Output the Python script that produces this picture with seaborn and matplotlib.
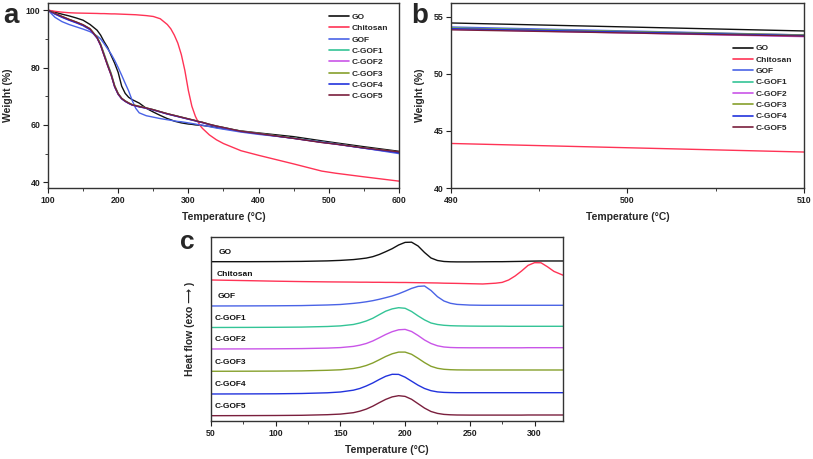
import numpy as np
import pandas as pd
import matplotlib
matplotlib.use("Agg")
import matplotlib.pyplot as plt
from matplotlib.ticker import MultipleLocator, NullLocator
import seaborn as sns

# ---- data ----
samples = ["GO", "Chitosan", "GOF", "C-GOF1", "C-GOF2", "C-GOF3", "C-GOF4", "C-GOF5"]
colors = ["#111111", "#ff3355", "#4a63e6", "#33c496", "#c955e8", "#86a02c", "#2233dd", "#7a1f3d"]

# TGA (panels a and b)
tga_temp = [100, 110, 120, 130, 140, 150, 160, 170, 175, 180, 185, 190, 195, 200, 205, 210,
            215, 220, 225, 230, 240, 250, 260, 270, 275, 280, 285, 290, 295, 300, 305, 310,
            316, 320, 330, 340, 350, 375, 400, 450, 490, 510, 550, 600]
tga_go = [100, 99.3, 98.6, 98.0, 97.3, 96.5, 95.0, 93.0, 91.3, 89.0, 87.0, 84.2, 81.5, 78.3, 73.5, 71.0,
          69.6, 68.8, 68.2, 67.6, 65.8, 64.5, 63.3, 62.2, 61.8, 61.3, 61.0, 60.7, 60.5, 60.3, 60.2, 60.0,
          59.9, 59.8, 59.5, 59.1, 58.7, 57.9, 57.2, 55.9, 54.45, 53.75, 52.4, 50.8]
tga_chitosan = [100, 99.6, 99.3, 99.1, 99.0, 98.95, 98.9, 98.85, 98.8, 98.8, 98.75, 98.7, 98.7, 98.65, 98.6, 98.55,
                98.5, 98.45, 98.4, 98.3, 98.1, 97.8, 97.0, 95.0, 93.5, 91.3, 88.5, 84.5, 79.0, 72.0, 66.5, 63.0,
                60.0, 58.8, 56.5, 54.8, 53.5, 51.0, 49.4, 46.4, 43.9, 43.15, 41.9, 40.4]
tga_gof = [100, 97.5, 96.0, 95.0, 94.2, 93.4, 92.5, 91.0, 90.0, 88.3, 86.5, 84.7, 82.5, 80.0, 77.3, 74.5,
           71.8, 68.5, 65.8, 64.2, 63.2, 62.7, 62.2, 61.8, 61.6, 61.4, 61.2, 61.1, 60.9, 60.7, 60.5, 60.3,
           60.0, 59.9, 59.4, 58.9, 58.5, 57.5, 56.7, 55.4, 54.1, 53.4, 51.9, 50.0]
tga_cgof1 = [100, 98.8, 97.7, 96.7, 95.8, 94.8, 93.4, 90.5, 88.0, 84.5, 81.0, 77.8, 73.5, 70.8, 69.2, 68.3,
             67.6, 67.0, 66.7, 66.4, 65.9, 65.3, 64.6, 63.9, 63.6, 63.3, 63.0, 62.7, 62.4, 62.1, 61.8, 61.5,
             61.1, 60.9, 60.2, 59.6, 59.1, 57.8, 57.0, 55.4, 54.0, 53.35, 52.0, 50.5]
tga_cgof2 = [100, 98.7, 97.6, 96.6, 95.7, 94.7, 93.2, 90.2, 87.6, 84.1, 80.6, 77.3, 73.2, 70.6, 69.1, 68.2,
             67.5, 66.9, 66.6, 66.3, 65.8, 65.2, 64.5, 63.8, 63.5, 63.2, 62.9, 62.6, 62.3, 62.0, 61.7, 61.4,
             61.0, 60.8, 60.1, 59.5, 59.0, 57.7, 56.9, 55.3, 53.9, 53.25, 51.9, 50.4]
tga_cgof3 = [100, 98.8, 97.8, 96.8, 95.9, 94.9, 93.5, 90.6, 88.2, 84.8, 81.3, 78.0, 73.8, 71.0, 69.3, 68.4,
             67.7, 67.1, 66.8, 66.5, 65.9, 65.3, 64.6, 63.9, 63.6, 63.3, 63.0, 62.7, 62.4, 62.1, 61.8, 61.5,
             61.1, 60.9, 60.2, 59.6, 59.1, 57.8, 57.0, 55.4, 54.0, 53.4, 52.0, 50.5]
tga_cgof4 = [100, 98.6, 97.5, 96.5, 95.6, 94.6, 93.2, 90.3, 87.8, 84.3, 80.8, 77.5, 73.3, 70.7, 69.1, 68.2,
             67.5, 66.9, 66.6, 66.3, 65.8, 65.2, 64.5, 63.8, 63.5, 63.2, 62.9, 62.6, 62.3, 62.0, 61.7, 61.4,
             61.0, 60.8, 60.1, 59.5, 59.0, 57.7, 56.9, 55.3, 53.95, 53.35, 51.9, 50.3]
tga_cgof5 = [100, 98.9, 97.8, 96.8, 95.9, 94.9, 93.5, 90.4, 87.8, 84.2, 80.7, 77.4, 73.4, 70.8, 69.2, 68.3,
             67.6, 67.0, 66.7, 66.4, 65.9, 65.3, 64.6, 63.9, 63.6, 63.3, 63.0, 62.7, 62.4, 62.1, 61.8, 61.5,
             61.1, 60.9, 60.2, 59.6, 59.1, 57.8, 57.0, 55.3, 53.85, 53.3, 52.0, 50.6]

# DSC (panel c): heat flow above each curve's own baseline (a.u.)
dsc_temp = [50, 80, 100, 120, 140, 150, 160, 165, 170, 175, 180, 185, 190, 195, 200, 205, 210, 215,
            220, 225, 230, 235, 240, 250, 260, 270, 275, 280, 285, 290, 295, 300, 305, 310, 315, 322]
dsc_go = [0.3, 0.3, 0.4, 0.6, 1.1, 1.6, 2.4, 3.1, 3.9, 5.3, 7.5, 10.3, 13.3, 17.0, 19.6, 19.8, 16.0, 9.5,
          4.0, 1.5, 0.5, 0.2, 0.1, 0.1, 0.2, 0.3, 0.3, 0.4, 0.5, 0.6, 0.8, 0.9, 1.0, 1.0, 1.0, 1.0]
dsc_chitosan = [4.0, 3.3, 2.8, 2.4, 2.1, 2.0, 1.9, 1.8, 1.8, 1.7, 1.7, 1.6, 1.6, 1.5, 1.5, 1.4, 1.3, 1.2,
                1.1, 1.0, 0.8, 0.7, 0.6, 0.3, 0.0, 0.8, 1.6, 4.0, 8.0, 13.0, 18.6, 21.3, 21.2, 17.2, 12.6, 8.8]
dsc_gof = [0.0, 0.1, 0.2, 0.4, 1.0, 1.5, 2.6, 3.3, 4.2, 5.3, 6.7, 8.3, 10.0, 12.2, 14.8, 17.6, 19.6, 20.0,
           15.5, 9.3, 5.0, 2.7, 1.6, 0.9, 0.7, 0.7, 0.7, 0.7, 0.7, 0.7, 0.7, 0.7, 0.7, 0.7, 0.7, 0.7]
dsc_cgof1 = [0.0, 0.1, 0.2, 0.4, 1.0, 1.6, 3.0, 4.5, 6.5, 9.2, 12.8, 16.3, 18.6, 19.8, 19.2, 16.0, 11.6, 7.6,
             4.5, 3.0, 2.2, 1.8, 1.6, 1.4, 1.3, 1.3, 1.3, 1.2, 1.2, 1.2, 1.2, 1.2, 1.2, 1.2, 1.2, 1.2]
dsc_cgof2 = [0.0, 0.1, 0.2, 0.4, 0.9, 1.4, 2.6, 3.8, 5.5, 8.0, 11.2, 14.5, 17.3, 19.2, 19.6, 17.5, 13.5, 9.0,
             5.5, 3.2, 2.0, 1.5, 1.3, 1.2, 1.2, 1.2, 1.2, 1.2, 1.2, 1.2, 1.3, 1.3, 1.3, 1.3, 1.3, 1.3]
dsc_cgof3 = [0.0, 0.1, 0.2, 0.4, 1.0, 1.5, 2.8, 4.0, 5.8, 8.3, 11.5, 14.8, 17.5, 19.2, 19.2, 17.0, 13.0, 8.7,
             5.0, 3.0, 2.0, 1.6, 1.4, 1.3, 1.3, 1.3, 1.3, 1.3, 1.3, 1.3, 1.3, 1.3, 1.3, 1.3, 1.3, 1.3]
dsc_cgof4 = [0.0, 0.1, 0.2, 0.5, 1.2, 2.0, 3.8, 5.5, 8.0, 11.0, 14.5, 17.7, 19.7, 19.6, 16.8, 12.8, 8.8, 5.5,
             3.3, 2.1, 1.6, 1.4, 1.3, 1.3, 1.3, 1.3, 1.3, 1.3, 1.3, 1.3, 1.3, 1.3, 1.3, 1.3, 1.3, 1.3]
dsc_cgof5 = [0.0, 0.1, 0.2, 0.4, 1.0, 1.6, 3.0, 4.5, 6.6, 9.5, 13.0, 16.3, 18.8, 20.0, 19.3, 16.4, 12.0, 7.6,
             4.2, 2.3, 1.3, 0.9, 0.7, 0.6, 0.6, 0.6, 0.6, 0.6, 0.6, 0.6, 0.7, 0.7, 0.7, 0.7, 0.7, 0.7]
dsc_offset = [159, 137, 115, 93.5, 72, 49.7, 27, 5.3]

tga_series = [tga_go, tga_chitosan, tga_gof, tga_cgof1, tga_cgof2, tga_cgof3, tga_cgof4, tga_cgof5]
dsc_series = [dsc_go, dsc_chitosan, dsc_gof, dsc_cgof1, dsc_cgof2, dsc_cgof3, dsc_cgof4, dsc_cgof5]

tga = pd.concat([pd.DataFrame({"T": tga_temp, "W": w, "sample": s})
                 for s, w in zip(samples, tga_series)], ignore_index=True)
dsc = pd.concat([pd.DataFrame({"T": dsc_temp, "H": np.array(h) + off, "sample": s})
                 for s, h, off in zip(samples, dsc_series, dsc_offset)], ignore_index=True)
palette = dict(zip(samples, colors))

# ---- style ----
sns.set_theme(style="ticks")
plt.rcParams["font.family"] = ["Liberation Sans", "DejaVu Sans"]
plt.rcParams["font.weight"] = "bold"
plt.rcParams["axes.labelweight"] = "bold"

fig = plt.figure(figsize=(8.13, 4.59), dpi=100)
ax_a = fig.add_axes([0.059, 0.5904, 0.4317, 0.4031])
ax_b = fig.add_axes([0.5547, 0.5904, 0.4342, 0.4031])
ax_c = fig.add_axes([0.2595, 0.0828, 0.433, 0.4009])


def style_axes(ax):
    for sp in ax.spines.values():
        sp.set_color("#333333")
        sp.set_linewidth(1.0)
    ax.tick_params(which="major", direction="out", length=3.5, width=0.8,
                   labelsize=6.3, pad=2, colors="#222222")
    ax.tick_params(which="minor", direction="out", length=2, width=0.6, colors="#222222")
    for lab in ax.get_xticklabels() + ax.get_yticklabels():
        lab.set_fontweight("bold")


def make_legend(ax, anchor):
    leg = ax.get_legend()
    handles = leg.legend_handles
    labels = [t.get_text() for t in leg.get_texts()]
    for h in handles:
        h.set_linewidth(1.2)
    ax.legend(handles, labels, loc="upper left", bbox_to_anchor=anchor, frameon=False,
              handlelength=2.4, handletextpad=0.3, labelspacing=0.42,
              borderaxespad=0, borderpad=0, prop={"weight": "bold", "size": 6})


# panel a
sns.lineplot(data=tga, x="T", y="W", hue="sample", hue_order=samples, palette=palette,
             estimator=None, sort=False, lw=1.0, ax=ax_a)
ax_a.set_xlim(100, 600)
ax_a.set_ylim(38, 102.5)
ax_a.xaxis.set_major_locator(MultipleLocator(100))
ax_a.xaxis.set_minor_locator(MultipleLocator(50))
ax_a.yaxis.set_major_locator(MultipleLocator(20))
ax_a.yaxis.set_minor_locator(MultipleLocator(10))
ax_a.set_xlabel("Temperature (\u00b0C)", fontsize=7.5, fontweight="bold")
ax_a.set_ylabel("Weight (%)", fontsize=7.5, fontweight="bold")
ax_a.xaxis.set_label_coords(0.5, -0.13)
ax_a.yaxis.set_label_coords(-0.10, 0.5)
style_axes(ax_a)
make_legend(ax_a, (0.80, 0.945))

# panel b
sns.lineplot(data=tga, x="T", y="W", hue="sample", hue_order=samples, palette=palette,
             estimator=None, sort=False, lw=1.0, ax=ax_b)
ax_b.set_xlim(490, 510)
ax_b.set_ylim(40, 56.2)
ax_b.xaxis.set_major_locator(MultipleLocator(10))
ax_b.xaxis.set_minor_locator(MultipleLocator(5))
ax_b.yaxis.set_major_locator(MultipleLocator(5))
ax_b.set_xlabel("Temperature (\u00b0C)", fontsize=7.5, fontweight="bold")
ax_b.set_ylabel("Weight (%)", fontsize=7.5, fontweight="bold")
ax_b.xaxis.set_label_coords(0.5, -0.13)
ax_b.yaxis.set_label_coords(-0.074, 0.5)
style_axes(ax_b)
make_legend(ax_b, (0.80, 0.775))

# panel c
sns.lineplot(data=dsc, x="T", y="H", hue="sample", hue_order=samples, palette=palette,
             estimator=None, sort=False, lw=1.0, ax=ax_c, legend=False)
ax_c.set_xlim(50, 322)
ax_c.set_ylim(0, 184)
ax_c.xaxis.set_major_locator(MultipleLocator(50))
ax_c.xaxis.set_minor_locator(MultipleLocator(25))
ax_c.yaxis.set_major_locator(NullLocator())
ax_c.set_xlabel("Temperature (\u00b0C)", fontsize=7.5, fontweight="bold")
ax_c.set_ylabel("Heat flow (exo \u27f6 )", fontsize=7.5, fontweight="bold")
ax_c.xaxis.set_label_coords(0.5, -0.13)
ax_c.yaxis.set_label_coords(-0.045, 0.5)
style_axes(ax_c)
label_x = [56, 54, 55, 53, 53, 53, 53, 53]
for s, off, lx in zip(samples, dsc_offset, label_x):
    ax_c.text(lx, off + 9, s, fontsize=6, fontweight="bold", va="center", ha="left", color="#111111")

# panel letters
fig.text(0.004, 0.965, "a", fontsize=20, fontweight="bold", va="center")
fig.text(0.506, 0.965, "b", fontsize=20, fontweight="bold", va="center")
fig.text(0.222, 0.473, "c", fontsize=19, fontweight="bold", va="center")

fig.savefig("out.png", dpi=100)
